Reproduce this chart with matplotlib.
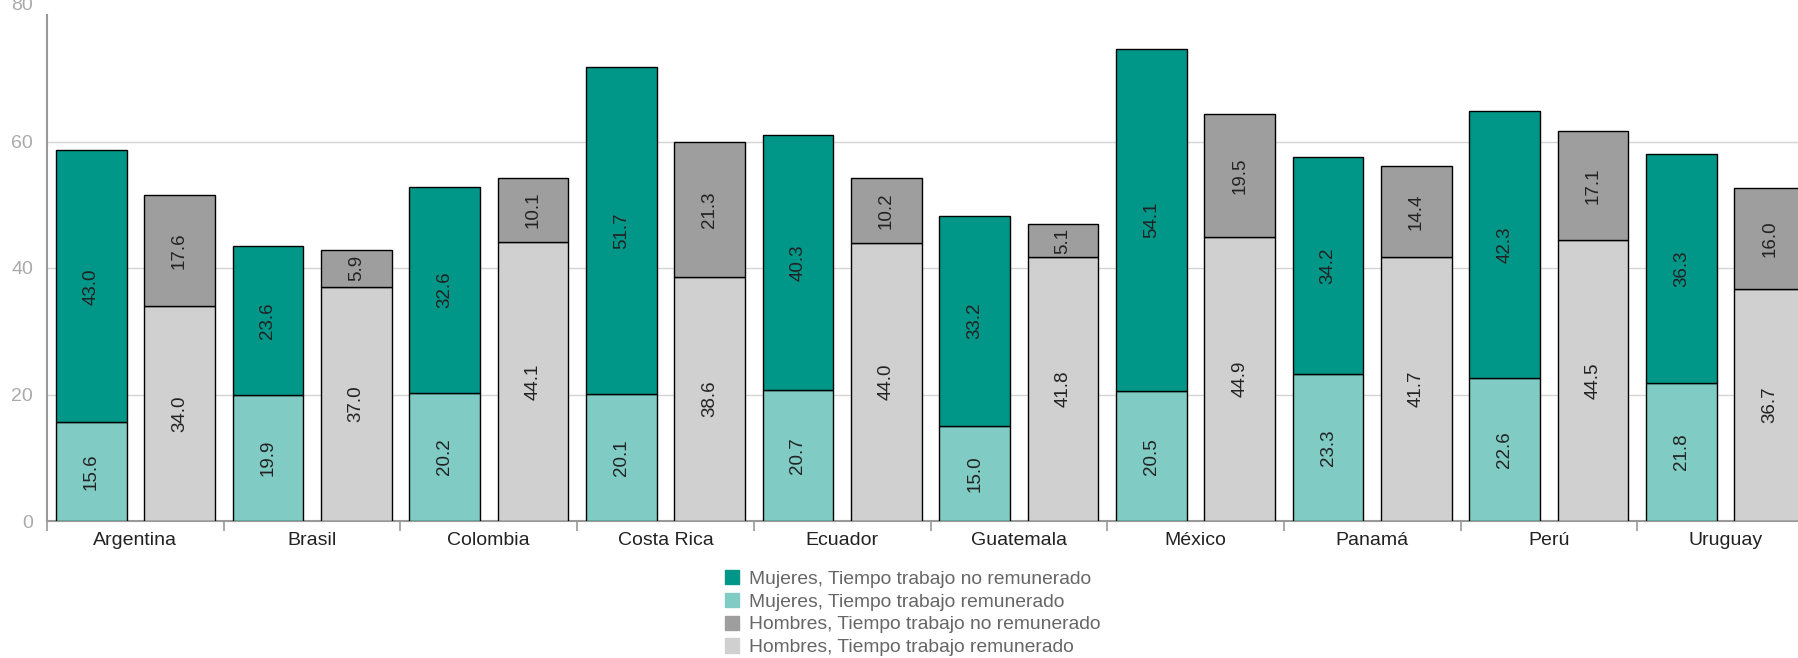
import matplotlib.pyplot as plt
import matplotlib.transforms as mtransforms
import numpy as np

plt.rcParams['font.family'] = ['Liberation Sans', 'DejaVu Sans']

# Data
countries = ["Argentina", "Brasil", "Colombia", "Costa Rica", "Ecuador",
             "Guatemala", "México", "Panamá", "Perú", "Uruguay"]
muj_rem = [15.6, 19.9, 20.2, 20.1, 20.7, 15.0, 20.5, 23.3, 22.6, 21.8]
muj_no_rem = [43.0, 23.6, 32.6, 51.7, 40.3, 33.2, 54.1, 34.2, 42.3, 36.3]
hom_rem = [34.0, 37.0, 44.1, 38.6, 44.0, 41.8, 44.9, 41.7, 44.5, 36.7]
hom_no_rem = [17.6, 5.9, 10.1, 21.3, 10.2, 5.1, 19.5, 14.4, 17.1, 16.0]

c_muj_no = '#009688'
c_muj_rem = '#80cbc4'
c_hom_no = '#9e9e9e'
c_hom_rem = '#d0d0d0'

x = np.arange(len(countries))
width = 0.4
off = 0.25

fig = plt.figure(figsize=(17.99, 6.58), dpi=100)
# plot area runs past the right edge like the original screenshot
ax = fig.add_axes([47 / 1799, 137 / 658, 1767 / 1799, 506 / 658])

kw = dict(edgecolor='black', linewidth=1, zorder=3)
b1 = ax.bar(x - off, muj_rem, width, color=c_muj_rem, **kw)
b2 = ax.bar(x - off, muj_no_rem, width, bottom=muj_rem, color=c_muj_no, **kw)
b3 = ax.bar(x + off, hom_rem, width, color=c_hom_rem, **kw)
b4 = ax.bar(x + off, hom_no_rem, width, bottom=hom_rem, color=c_hom_no, **kw)

for bars in (b1, b2, b3, b4):
    ax.bar_label(bars, labels=[f'{v:.1f}' for v in bars.datavalues],
                 label_type='center', rotation=90, fontsize=13.5,
                 color='#222222', zorder=4)

ax.set_xlim(-0.5, len(countries) - 0.5)
ax.set_ylim(0, 80)
ax.set_yticks([0, 20, 40, 60, 80])
ax.yaxis.grid(True, color='#d4d4d4', linewidth=1, zorder=0)
ax.get_ygridlines()[-1].set_visible(False)
ax.set_axisbelow(True)

ax.set_xticks(x)
ax.set_xticklabels(countries, fontsize=14, color='#222222')
ax.set_xticks(np.arange(len(countries) + 1) - 0.5, minor=True)
ax.tick_params(axis='x', which='major', length=0, pad=8)
ax.tick_params(axis='x', which='minor', length=7, color='#999999', width=1.2)
ax.tick_params(axis='y', length=0, labelsize=14, labelcolor='#aaaaaa', pad=10)

# top label is cut by the image edge in the original
top_lbl = ax.yaxis.get_major_ticks()[-1].label1
top_lbl.set_transform(top_lbl.get_transform() +
                      mtransforms.ScaledTranslation(0, 0.12, fig.dpi_scale_trans))

for s in ('top', 'right'):
    ax.spines[s].set_visible(False)
ax.spines['left'].set_color('#999999')
ax.spines['left'].set_linewidth(1.5)
ax.spines['bottom'].set_color('#999999')
ax.spines['bottom'].set_linewidth(1.5)

handles = [plt.Rectangle((0, 0), 1, 1, color=c) for c in
           (c_muj_no, c_muj_rem, c_hom_no, c_hom_rem)]
labels = ["Mujeres, Tiempo trabajo no remunerado",
          "Mujeres, Tiempo trabajo remunerado",
          "Hombres, Tiempo trabajo no remunerado",
          "Hombres, Tiempo trabajo remunerado"]
fig.legend(handles, labels, loc='upper left',
           bbox_to_anchor=(725 / 1799, 1 - 570 / 658),
           frameon=False, fontsize=13.9, labelcolor='#666666',
           handlelength=0.75, handleheight=0.75, handletextpad=0.5,
           labelspacing=0.26, borderpad=0, borderaxespad=0)

fig.savefig('out.png', dpi=100)
